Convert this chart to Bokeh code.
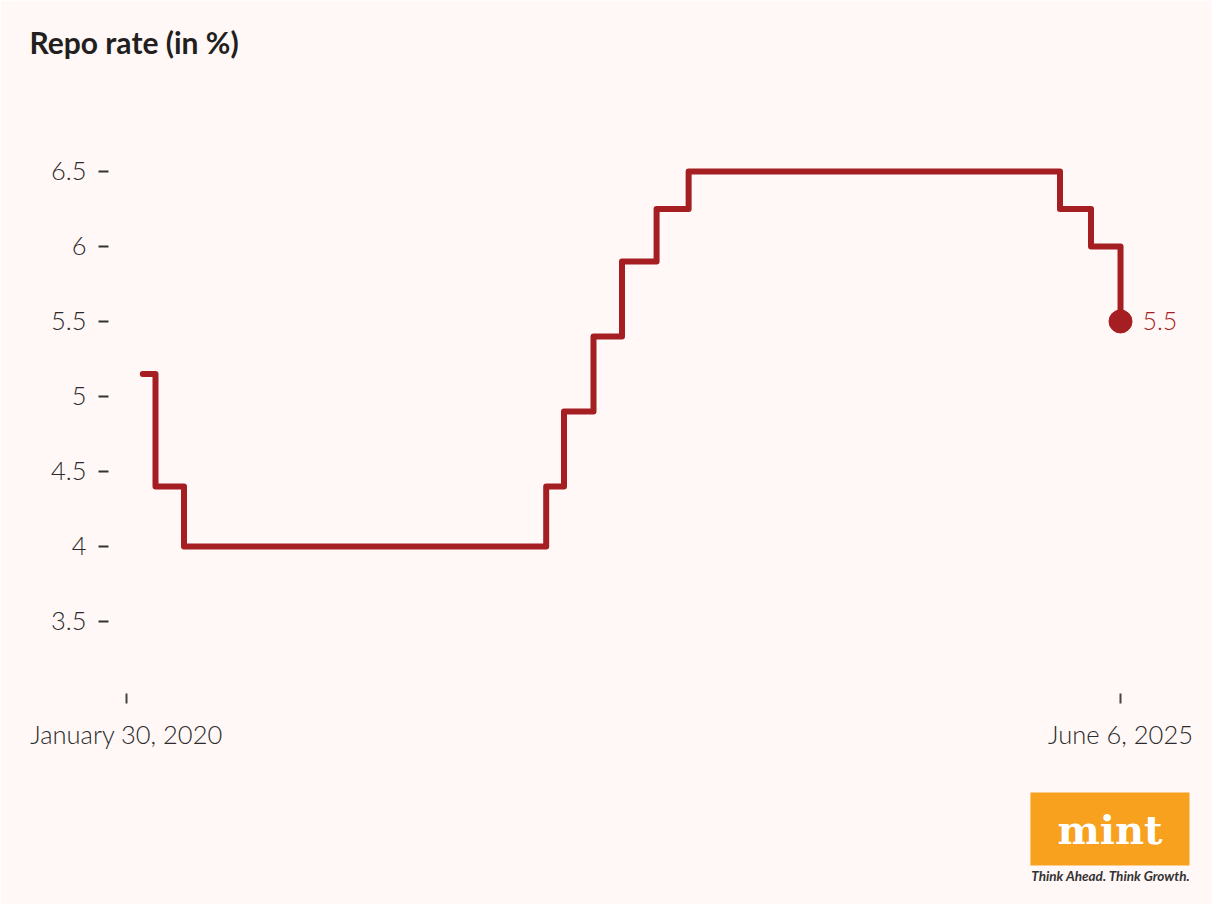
from datetime import datetime, timedelta
from bokeh.plotting import figure
from bokeh.models import Range1d, FixedTicker, NumeralTickFormatter, Title, DatetimeTickFormatter, LinearAxis
from bokeh.core.properties import value
from bokeh.embed import file_html
from bokeh.resources import INLINE

# ---- data ----
dates = ["2020-03-02", "2020-03-27", "2020-05-22", "2022-05-04", "2022-06-08", "2022-08-05",
         "2022-09-30", "2022-12-07", "2023-02-08", "2025-02-07", "2025-04-09", "2025-06-06"]
rates = [5.15, 4.40, 4.00, 4.40, 4.90, 5.40, 5.90, 6.25, 6.50, 6.25, 6.00, 5.50]
x_tick_dates = ["2020-01-30", "2025-06-06"]
x_tick_labels = ["January 30, 2020", "June 6, 2025"]
y_ticks = [3.5, 4, 4.5, 5, 5.5, 6, 6.5]
title_text = "Repo rate (in %)"
end_label = "5.5"
logo_text = "mint"
tagline = "Think Ahead. Think Growth."

BG = "#fff8f7"
RED = "#a51e22"
FONT = "Lato Light, Lato"

x = [datetime.fromisoformat(d) for d in dates]
tick_dt = [datetime.fromisoformat(d) for d in x_tick_dates]
EPOCH = datetime(1970, 1, 1)
tick_ms = [int((d - EPOCH).total_seconds() * 1000) for d in tick_dt]

last = x[-1]
x_start = last - timedelta(days=1989.4)
x_end = last + timedelta(days=117.9)

W, H = 1212, 904
p = figure(width=W, height=H, x_axis_type="datetime",
           x_range=Range1d(x_start, x_end), y_range=Range1d(3.02, 7.173),
           output_backend="svg", toolbar_location=None,
           min_border_left=108, min_border_right=32, min_border_top=70, min_border_bottom=211,
           background_fill_color=BG, border_fill_color=BG, outline_line_color=None)

# title
p.title.text = title_text
p.title.text_font = "Lato"
p.title.text_font_style = "bold"
p.title.text_font_size = "30px"
p.title.text_color = "#231f20"
p.title.align = "left"
p.title.offset = -79
p.title.standoff = 22

p.grid.visible = False

# y axis
ya = p.yaxis[0]
ya.ticker = FixedTicker(ticks=y_ticks)
ya.formatter = NumeralTickFormatter(format="0.[0]")
ya.axis_line_color = None
ya.major_tick_in = 0
ya.major_tick_out = 10
ya.major_tick_line_color = "#333333"
ya.major_tick_line_width = 2
ya.minor_tick_line_color = None
ya.major_label_standoff = 12
ya.major_label_text_font = FONT
ya.major_label_text_font_size = "25.5px"
ya.major_label_text_color = "#2b2b2b"

# x axis
xa = p.xaxis[0]
xa.ticker = FixedTicker(ticks=tick_ms)
xa.formatter = DatetimeTickFormatter(days="%B %d, %Y", months="%B %d, %Y", years="%B %d, %Y")
xa.major_label_overrides = {t: lab for t, lab in zip(tick_ms, x_tick_labels)}
xa.axis_line_color = None
xa.major_tick_in = 0
xa.major_tick_out = 10
xa.major_tick_line_color = "#444444"
xa.major_tick_line_width = 2
xa.minor_tick_line_color = None
xa.major_label_standoff = 15
xa.major_label_text_font = FONT
xa.major_label_text_font_size = "25.5px"
xa.major_label_text_color = "#2b2b2b"

# spacer between the x axis and the logo
mid_ms = (tick_ms[0] + tick_ms[1]) // 2
spacer = LinearAxis(ticker=FixedTicker(ticks=[mid_ms]), major_label_overrides={mid_ms: ""},
                    axis_line_color=None, major_tick_line_color=None, minor_tick_line_color=None,
                    major_tick_in=0, major_tick_out=41, major_label_standoff=0,
                    major_label_text_font_size="1px")
p.add_layout(spacer, "below")

# step line
p.step(x, rates, mode="after", line_color=RED, line_width=6,
       line_join="round", line_cap="round")

# end dot + label
p.scatter([x[-1]], [rates[-1]], size=23, color=RED)
p.text([x[-1]], [rates[-1]], text=[end_label], x_offset=22, text_baseline="middle",
       text_align="left", text_color=RED, text_font=value(FONT), text_font_size="25px")

# logo below the x axis
p.add_layout(Title(text=logo_text, align="right", vertical_align="top", offset=-9, standoff=0,
                   text_font="DejaVu Serif", text_font_style="bold", text_font_size="40px",
                   text_color="white", background_fill_color="#f8a11e",
                   padding=dict(left=27, right=27, top=13, bottom=13)), "below")
p.add_layout(Title(text=tagline, align="right", vertical_align="top", offset=-10, standoff=0,
                   text_font="Lato", text_font_style="bold italic", text_font_size="13.5px",
                   text_color="#333333"), "below")

open("out.html", "w").write(file_html(p, INLINE))
